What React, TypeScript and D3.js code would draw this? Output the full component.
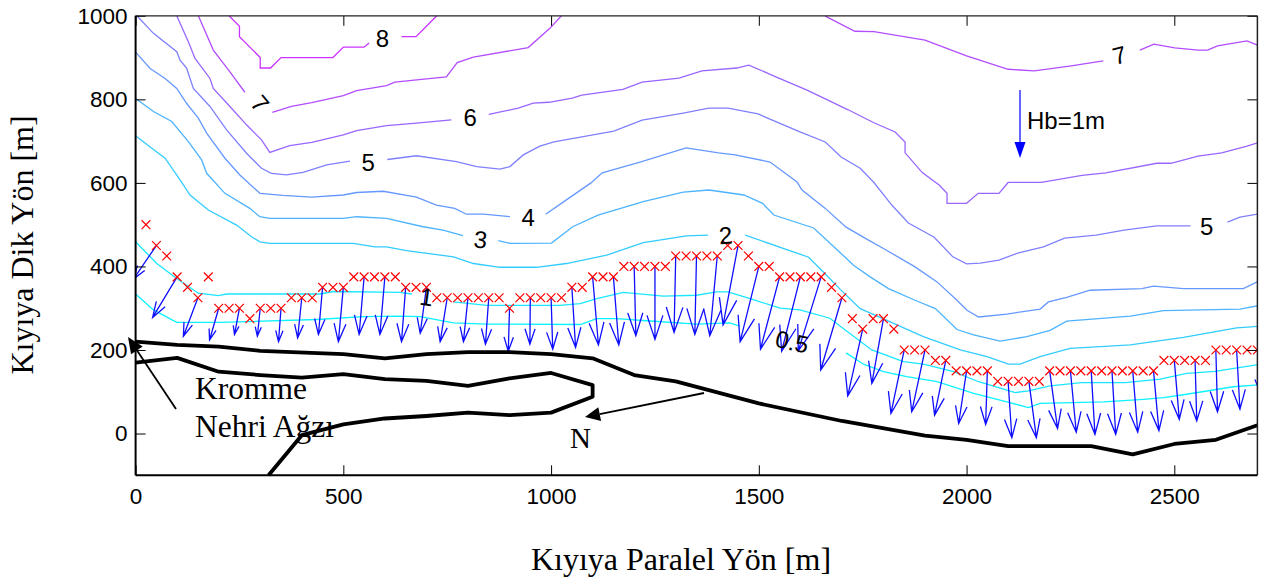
import React, { useEffect, useRef } from 'react';
import * as d3 from 'd3';

type Pt = [number, number];

const WIDTH = 1266;
const HEIGHT = 580;

const xTicks = [0, 500, 1000, 1500, 2000, 2500];
const yTicks = [0, 200, 400, 600, 800, 1000];

// contour lines of wave height, one list per level, split where the label sits
const contour05: Pt[][] = [
  [[0, 334], [43, 296], [99, 266], [203, 266], [436, 273], [548, 280], [636, 281], [685, 280], [765, 265], [845, 262], [1070, 261], [1110, 275], [1158, 275], [1230, 270], [1350, 262], [1430, 265], [1454, 257]],
  [[1710, 193], [1752, 166], [1800, 148], [1856, 136], [1929, 124], [2017, 96], [2097, 76], [2149, 62], [2177, 72], [2330, 76], [2426, 82], [2474, 86], [2530, 94], [2642, 112], [2708, 117]],
];
const contour1: Pt[][] = [
  [[0, 459], [51, 407], [99, 371], [151, 336], [199, 330], [219, 334], [444, 334], [476, 340], [636, 338], [665, 334]],
  [[765, 315], [845, 307], [949, 307], [1021, 307], [1070, 311], [1110, 323], [1174, 338], [1270, 329], [1350, 331], [1398, 339], [1426, 339], [1479, 323], [1551, 300], [1599, 296], [1671, 276], [1696, 257], [1772, 200], [1848, 172], [1896, 166], [1969, 148], [2029, 124], [2117, 98], [2149, 102], [2201, 114], [2277, 122], [2382, 122], [2466, 130], [2530, 144], [2598, 149], [2708, 166]],
];
const contour2: Pt[][] = [
  [[0, 713], [39, 683], [71, 659], [107, 607], [131, 571], [175, 535], [243, 499], [279, 471], [299, 459], [323, 455], [524, 455], [576, 447], [604, 447], [652, 438], [765, 423], [813, 407], [877, 398], [965, 398], [1037, 407], [1134, 427], [1222, 457], [1326, 473], [1378, 475]],
  [[1467, 475], [1620, 422], [1660, 382], [1696, 345], [1744, 299], [1808, 271], [1896, 232], [1985, 200], [2049, 184], [2101, 166], [2129, 166], [2177, 184], [2249, 204], [2322, 208], [2394, 212], [2522, 230], [2650, 253], [2708, 257]],
];
const contour3: Pt[][] = [
  [[0, 802], [43, 771], [87, 747], [127, 699], [159, 655], [171, 623], [215, 575], [275, 539], [299, 519], [323, 515], [500, 515], [532, 519], [604, 515], [692, 495], [740, 487], [788, 474]],
  [[873, 462], [901, 455], [1001, 456], [1052, 495], [1113, 523], [1224, 556], [1318, 578], [1380, 583], [1464, 571], [1509, 551], [1536, 523], [1632, 492], [1696, 433], [1728, 403], [1768, 375], [1812, 347], [1876, 319], [1925, 299], [1977, 249], [2017, 236], [2081, 221], [2145, 232], [2201, 247], [2241, 269], [2394, 281], [2474, 294], [2658, 298], [2708, 307]],
];
const contour4: Pt[][] = [
  [[0, 913], [35, 874], [71, 850], [99, 826], [123, 790], [151, 755], [171, 719], [215, 659], [251, 619], [299, 575], [355, 570], [424, 566], [500, 571], [532, 577], [596, 580], [676, 566], [724, 547], [768, 539], [796, 525], [837, 525], [901, 519]],
  [[987, 525], [1029, 554], [1096, 600], [1123, 624], [1214, 650], [1325, 684], [1403, 672], [1443, 667], [1527, 650], [1592, 602], [1604, 583], [1660, 539], [1710, 494], [1764, 463], [1800, 443], [1876, 399], [1929, 363], [1977, 319], [2001, 295], [2029, 279], [2097, 286], [2177, 298], [2197, 315], [2241, 326], [2297, 343], [2422, 347], [2450, 353], [2522, 347], [2666, 347], [2708, 367]],
];
const contour5: Pt[][] = [
  [[3, 1000], [43, 958], [99, 914], [107, 894], [123, 874], [139, 826], [179, 783], [219, 727], [267, 671], [303, 635], [327, 623], [363, 619], [403, 625], [460, 643], [516, 652]],
  [[606, 656], [676, 665], [772, 651], [821, 639], [877, 633], [901, 639], [933, 667], [973, 688], [1007, 698], [1151, 724], [1219, 750], [1318, 767], [1380, 779], [1426, 779], [1498, 765], [1599, 722], [1660, 698], [1698, 662], [1744, 635], [1777, 601], [1820, 547], [1860, 504], [1922, 470], [1967, 423], [2000, 406], [2033, 408], [2078, 415], [2123, 432], [2185, 447], [2236, 468], [2312, 475], [2379, 487], [2458, 497], [2539, 497]],
  [[2628, 506], [2658, 518], [2700, 525]],
];
const contour6: Pt[][] = [
  [[99, 1000], [127, 938], [143, 898], [179, 850], [187, 826], [227, 783], [267, 739], [303, 703], [323, 673], [371, 689], [424, 697], [500, 715], [532, 725], [604, 737], [676, 743], [760, 751]],
  [[850, 764], [921, 779], [957, 791], [995, 793], [1051, 803], [1074, 810], [1173, 824], [1219, 841], [1308, 851], [1363, 868], [1447, 875], [1476, 882], [1541, 854], [1616, 822], [1660, 801], [1715, 775], [1777, 744], [1828, 722], [1852, 698], [1852, 672], [1894, 624], [1934, 595], [1953, 575], [1953, 551], [2000, 551], [2028, 575], [2078, 575], [2100, 601], [2180, 601], [2278, 618], [2335, 624], [2458, 647], [2492, 647], [2557, 664], [2614, 672], [2675, 688], [2700, 696]],
];
const contour7: Pt[][] = [
  [[151, 1000], [187, 918], [227, 866], [263, 817]],
  [[329, 769], [375, 783], [424, 792], [500, 809], [532, 821], [604, 833], [624, 841], [700, 849], [748, 854], [774, 888], [813, 901], [945, 924], [997, 970], [1025, 1000]],
  [[1659, 1000], [1731, 963], [1777, 962], [1900, 942], [2000, 904], [2100, 872], [2163, 868], [2252, 880], [2329, 892]],
  [[2417, 918], [2451, 932], [2501, 923], [2557, 918], [2580, 918], [2604, 928], [2675, 940], [2700, 930]],
];
const contour8: Pt[][] = [
  [[225, 1000], [250, 975], [250, 950], [275, 925], [300, 900], [300, 875], [325, 875], [350, 900], [475, 900], [500, 925], [550, 925], [562, 935]],
  [[640, 950], [675, 950], [700, 975], [725, 1000]],
];

const contourLevels: [number, Pt[][]][] = [
  [0.5, contour05], [1, contour1], [2, contour2], [3, contour3], [4, contour4],
  [5, contour5], [6, contour6], [7, contour7], [8, contour8],
];

// text, x, y (in metres) and rotation of the contour labels
const contourLabels: [string, number, number, number][] = [
  ['8', 594, 945, 0],
  ['7', 300, 790, 50],
  ['7', 2368, 906, -14],
  ['6', 805, 757, 0],
  ['5', 560, 650, 0],
  ['5', 2578, 495, 0],
  ['4', 945, 517, 0],
  ['3', 830, 465, 6],
  ['2', 1420, 475, -4],
  ['1', 700, 327, 8],
  ['0.5', 1580, 220, 12],
];

// breaking points along the shore
const breakerX = [25, 50, 75, 100, 125, 150, 175, 200, 225, 250, 275, 300, 325, 350, 375, 400, 425, 450, 475, 500, 525, 550, 575, 600, 625, 650, 675, 700, 725, 750, 775, 800, 825, 850, 875, 900, 925, 950, 975, 1000, 1025, 1050, 1075, 1100, 1125, 1150, 1175, 1200, 1225, 1250, 1275, 1300, 1325, 1350, 1375, 1400, 1425, 1450, 1475, 1500, 1525, 1550, 1575, 1600, 1625, 1650, 1675, 1700, 1725, 1750, 1775, 1800, 1825, 1850, 1875, 1900, 1925, 1950, 1975, 2000, 2025, 2050, 2075, 2100, 2125, 2150, 2175, 2200, 2225, 2250, 2275, 2300, 2325, 2350, 2375, 2400, 2425, 2450, 2475, 2500, 2525, 2550, 2575, 2600, 2625, 2650, 2675, 2700];
const breakerY = [500, 450, 425, 375, 350, 325, 375, 300, 300, 300, 275, 300, 300, 300, 325, 325, 325, 350, 350, 350, 375, 375, 375, 375, 375, 350, 350, 350, 325, 325, 325, 325, 325, 325, 325, 300, 325, 325, 325, 325, 325, 350, 350, 375, 375, 375, 400, 400, 400, 400, 400, 425, 425, 425, 425, 425, 450, 450, 425, 400, 400, 375, 375, 375, 375, 375, 350, 325, 275, 250, 275, 275, 250, 200, 200, 200, 175, 175, 150, 150, 150, 150, 125, 125, 125, 125, 125, 150, 150, 150, 150, 150, 150, 150, 150, 150, 150, 150, 175, 175, 175, 175, 175, 200, 200, 200, 200, 200];

// wave height vectors: start [x, y] and tip [x, y]
const waveStart: Pt[] = [[0, 525], [50, 450], [100, 375], [150, 325], [200, 300], [250, 300], [300, 300], [350, 300], [400, 325], [450, 350], [500, 350], [550, 375], [600, 375], [650, 350], [700, 350], [750, 325], [800, 325], [850, 325], [900, 300], [950, 325], [1000, 325], [1050, 350], [1100, 375], [1150, 375], [1200, 400], [1250, 400], [1300, 425], [1350, 425], [1400, 425], [1450, 450], [1500, 400], [1550, 375], [1600, 375], [1650, 375], [1700, 325], [1750, 250], [1800, 275], [1850, 200], [1900, 200], [1950, 175], [2000, 150], [2050, 150], [2100, 125], [2150, 125], [2200, 150], [2250, 150], [2300, 150], [2350, 150], [2400, 150], [2450, 150], [2500, 175], [2550, 175], [2600, 200], [2650, 200], [2700, 200]];
const waveTip: Pt[] = [[-20, 490], [-5, 370], [41, 278], [115, 233], [178, 224], [238, 237], [293, 233], [344, 220], [390, 229], [440, 237], [488, 220], [538, 237], [588, 237], [640, 220], [685, 240], [733, 220], [789, 220], [842, 214], [897, 197], [949, 214], [1004, 202], [1059, 206], [1114, 212], [1163, 212], [1204, 234], [1250, 225], [1296, 242], [1346, 237], [1382, 234], [1414, 260], [1455, 220], [1504, 202], [1555, 197], [1595, 198], [1649, 152], [1714, 90], [1772, 120], [1818, 48], [1868, 52], [1923, 44], [1981, 24], [2046, 22], [2109, -10], [2168, -10], [2219, 12], [2264, 3], [2309, -2], [2359, -2], [2412, 3], [2463, 7], [2512, 34], [2554, 30], [2604, 52], [2658, 58], [2708, 96]];

// shore and river mouth
const shoreLine: Pt[] = [[0, 220], [100, 212], [200, 208], [300, 198], [500, 190], [600, 180], [700, 190], [800, 195], [900, 195], [1000, 190], [1100, 180], [1200, 140], [1300, 125], [1500, 72], [1700, 30], [1900, -5], [2000, -15], [2100, -30], [2300, -30], [2400, -50], [2500, -25], [2600, -15], [2700, 20]];
const riverLine: Pt[] = [[0, 170], [100, 181], [200, 148], [300, 140], [400, 134], [500, 142], [600, 130], [700, 126], [800, 114], [900, 132], [1000, 145], [1100, 116], [1100, 88], [1000, 50], [900, 44], [800, 50], [700, 42], [600, 36], [500, 22], [400, -4], [320, -100]];

const SANS = '"Liberation Sans", Arial, sans-serif';
const SERIF = '"Liberation Serif", "Times New Roman", serif';

export default function App() {
  const svgRef = useRef<SVGSVGElement>(null);

  useEffect(() => {
    const svg = d3.select(svgRef.current);
    svg.selectAll('*').remove();

    const x = d3.scaleLinear().domain([0, 2700]).range([135.6, 1257.4]);
    const y = d3.scaleLinear().domain([-100, 1000]).range([475.3, 15.8]);
    const cool = d3.scaleLinear<string>().domain([0, 10]).range(['#00ffff', '#ff00ff']);
    const line = d3.line<Pt>().x(d => x(d[0])).y(d => y(d[1]));

    svg.append('clipPath').attr('id', 'plot-area')
      .append('rect')
      .attr('x', x(0)).attr('y', y(1000))
      .attr('width', x(2700) - x(0)).attr('height', y(-100) - y(1000));

    const plot = svg.append('g').attr('clip-path', 'url(#plot-area)');

    // contours
    contourLevels.forEach(([level, segments]) => {
      plot.append('g').selectAll('path').data(segments).enter().append('path')
        .attr('d', d => line(d))
        .attr('fill', 'none')
        .attr('stroke', cool(level))
        .attr('stroke-width', 1.3);
    });

    // wave vectors, heads built like a matlab quiver
    waveStart.forEach((s, i) => {
      const x0 = x(s[0]), y0 = y(s[1]);
      const x1 = x(waveTip[i][0]), y1 = y(waveTip[i][1]);
      const u = x1 - x0, v = y1 - y0;
      const a = 0.33, b = 0.33;
      plot.append('path')
        .attr('d', `M${x0},${y0}L${x1},${y1}M${x1 - a * (u + b * v)},${y1 - a * (v - b * u)}L${x1},${y1}L${x1 - a * (u - b * v)},${y1 - a * (v + b * u)}`)
        .attr('fill', 'none')
        .attr('stroke', '#0f0fff')
        .attr('stroke-width', 1.3);
    });

    // crosses
    const crossSize = 4.4;
    plot.append('g').selectAll('path').data(breakerX).enter().append('path')
      .attr('d', (d, i) => {
        const cx = x(d), cy = y(breakerY[i]);
        return `M${cx - crossSize},${cy - crossSize}L${cx + crossSize},${cy + crossSize}M${cx - crossSize},${cy + crossSize}L${cx + crossSize},${cy - crossSize}`;
      })
      .attr('stroke', '#ff0000')
      .attr('stroke-width', 1.2);

    // shore
    [shoreLine, riverLine].forEach(d => {
      svg.append('path')
        .attr('d', line(d))
        .attr('fill', 'none')
        .attr('stroke', 'black')
        .attr('stroke-width', 3.8)
        .attr('stroke-linejoin', 'round');
    });

    // axes
    const xAxis = svg.append('g').attr('transform', `translate(0,${y(-100)})`)
      .call(d3.axisBottom(x).tickValues(xTicks).tickSize(-10).tickPadding(13).tickFormat(d3.format('d')));
    const xTop = svg.append('g').attr('transform', `translate(0,${y(1000)})`)
      .call(d3.axisTop(x).tickValues(xTicks).tickSize(-10).tickFormat(() => ''));
    const yAxis = svg.append('g').attr('transform', `translate(${x(0)},0)`)
      .call(d3.axisLeft(y).tickValues(yTicks).tickSize(-10).tickPadding(8).tickFormat(d3.format('d')));
    const yRight = svg.append('g').attr('transform', `translate(${x(2700)},0)`)
      .call(d3.axisRight(y).tickValues(yTicks).tickSize(-10).tickFormat(() => ''));
    [xAxis, xTop, yAxis, yRight].forEach(g => {
      g.select('.domain').remove();
      g.selectAll('text').attr('font-family', SANS).attr('font-size', 22.5).attr('fill', 'black');
      g.selectAll('line').attr('stroke', 'black').attr('stroke-width', 1);
    });

    svg.append('line').attr('x1', x(0)).attr('x2', x(2700)).attr('y1', y(1000)).attr('y2', y(1000)).attr('stroke', '#222').attr('stroke-width', 1.2);
    svg.append('line').attr('x1', x(2700)).attr('x2', x(2700)).attr('y1', y(1000)).attr('y2', y(-100)).attr('stroke', '#222').attr('stroke-width', 1.5);
    svg.append('line').attr('x1', x(0)).attr('x2', x(0)).attr('y1', y(1000)).attr('y2', y(-100)).attr('stroke', 'black').attr('stroke-width', 2);
    svg.append('line').attr('x1', x(0)).attr('x2', x(2700)).attr('y1', y(-100)).attr('y2', y(-100)).attr('stroke', 'black').attr('stroke-width', 2);

    // contour labels
    svg.append('g').selectAll('text').data(contourLabels).enter().append('text')
      .attr('transform', d => `translate(${x(d[1])},${y(d[2])}) rotate(${d[3]})`)
      .attr('text-anchor', 'middle')
      .attr('dy', '0.36em')
      .attr('font-family', SANS)
      .attr('font-size', 24)
      .text(d => d[0]);

    // annotation arrows
    const filledArrow = (x0: number, y0: number, x1: number, y1: number, color: string, w: number, len: number, half: number) => {
      const ang = Math.atan2(y1 - y0, x1 - x0);
      const bx = x1 - len * Math.cos(ang), by = y1 - len * Math.sin(ang);
      const nx = -Math.sin(ang) * half, ny = Math.cos(ang) * half;
      svg.append('line').attr('x1', x0).attr('y1', y0).attr('x2', bx).attr('y2', by).attr('stroke', color).attr('stroke-width', w);
      svg.append('path').attr('d', `M${x1},${y1}L${bx + nx},${by + ny}L${bx - nx},${by - ny}Z`).attr('fill', color);
    };
    filledArrow(176, 409, 128, 337, 'black', 1.8, 16, 7);
    filledArrow(704, 393, 585, 417, 'black', 1.8, 15, 7);
    filledArrow(1020, 90, 1020, 158, '#0000ff', 1.2, 16, 5.5);

    // text
    const addText = (t: string, px: number, py: number, font: string, size: number) =>
      svg.append('text').attr('x', px).attr('y', py).attr('font-family', font).attr('font-size', size).text(t);

    addText('Kromme', 195, 399, SERIF, 31.5);
    addText('Nehri Ağzı', 195, 437, SERIF, 31.5);
    addText('N', 570, 448, SERIF, 29);
    addText('Hb=1m', 1027, 129, SANS, 24);

    addText('Kıyıya Paralel Yön [m]', 681, 570, SERIF, 32).attr('text-anchor', 'middle');
    svg.append('text')
      .attr('transform', 'translate(33,245) rotate(-90)')
      .attr('text-anchor', 'middle')
      .attr('font-family', SERIF)
      .attr('font-size', 32)
      .text('Kıyıya Dik Yön [m]');
  }, []);

  return (
    <svg
      ref={svgRef}
      width={WIDTH}
      height={HEIGHT}
      style={{ position: 'absolute', left: 0, top: 0, display: 'block', background: 'white' }}
    />
  );
}
